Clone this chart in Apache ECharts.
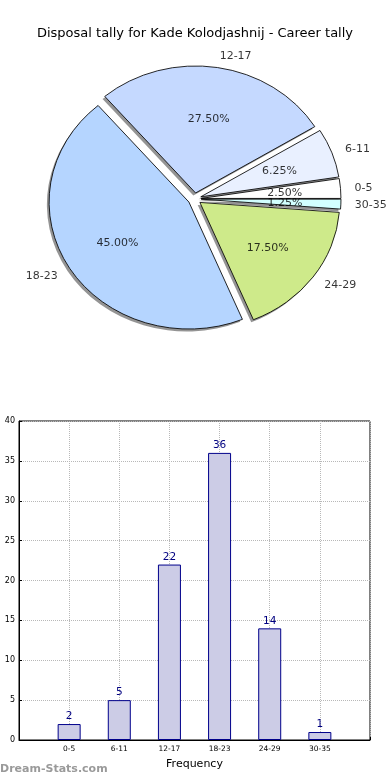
<!DOCTYPE html>
<html><head><meta charset="utf-8">
<script src="https://cdn.jsdelivr.net/npm/echarts@6/dist/echarts.min.js"></script>
<style>
html,body{margin:0;padding:0;background:#fff;}
#main{position:absolute;left:0;top:0;width:390px;height:780px;}
#pie{position:absolute;left:0;top:40px;width:354.2px;height:310px;transform:scaleX(1.101);transform-origin:0 0;}
</style></head><body>
<div id="main"></div><div id="pie"></div>
<script>
const chartTitle = 'Disposal tally for Kade Kolodjashnij - Career tally';
const categories = ['0-5', '6-11', '12-17', '18-23', '24-29', '30-35'];
const counts = [2, 5, 22, 36, 14, 1];
const sliceColors = ['#ffffff', '#e9f0ff', '#c5d9ff', '#b5d5ff', '#ceea8a', '#d2ffff'];
const xAxisName = 'Frequency';
const watermark = 'Dream-Stats.com';

const FONT = '"DejaVu Sans", sans-serif';
const R = 127;            // pie radius (pre-scale px)
const CX = 176.7, CY = 158.9;
const OFFSET = 6;         // explode distance
const PIE_FS = 10;

const total = counts.reduce((a, b) => a + b, 0);
let acc = 0;
const midAngles = counts.map(v => { const a = (acc + v / 2) / total * 360; acc += v; return a; });
const pctR = 0.6 + OFFSET / R;
const nameR = 1.1 + OFFSET / R;

const pieChart = echarts.init(document.getElementById('pie'), null, { renderer: 'svg' });
const pieCommon = {
  type: 'pie', radius: R, startAngle: 0, clockwise: false,
  selectedMode: 'multiple', selectedOffset: OFFSET, avoidLabelOverlap: false,
  label: { show: false }, labelLine: { show: false },
  emphasis: { disabled: true }, silent: true
};
const txt = { color: '#000', fontSize: PIE_FS, fontFamily: FONT, textBorderWidth: 0, textBorderColor: 'transparent', textShadowBlur: 0 };
pieChart.setOption({
  animation: false,
  polar: { center: [CX, CY], radius: 1.3 * R },
  angleAxis: { type: 'value', min: 0, max: 360, startAngle: 0, clockwise: false, show: false },
  radiusAxis: { type: 'value', min: 0, max: 1.3, show: false },
  series: [
    Object.assign({}, pieCommon, {
      center: [CX - 2, CY + 2.5], z: 1,
      itemStyle: { color: 'rgba(0,0,0,0.42)', borderWidth: 0 },
      data: categories.map((c, i) => ({ name: c, value: counts[i], selected: true,
        select: { itemStyle: { color: 'rgba(0,0,0,0.42)', borderWidth: 0 } } }))
    }),
    Object.assign({}, pieCommon, {
      center: [CX, CY], z: 2,
      itemStyle: { borderColor: '#000', borderWidth: 0.8 },
      data: categories.map((c, i) => ({ name: c, value: counts[i], selected: true,
        itemStyle: { color: sliceColors[i] },
        select: { itemStyle: { color: sliceColors[i], borderColor: '#000', borderWidth: 0.8 } } }))
    }),
    {
      type: 'scatter', coordinateSystem: 'polar', symbolSize: 0, silent: true, z: 5, clip: false,
      itemStyle: { color: 'transparent' },
      data: counts.map((v, i) => ({ value: [pctR, midAngles[i]] })),
      label: Object.assign({ show: true, position: 'inside',
        formatter: p => (counts[p.dataIndex] / total * 100).toFixed(2) + '%' }, txt)
    },
    {
      type: 'scatter', coordinateSystem: 'polar', symbolSize: 0, silent: true, z: 5, clip: false,
      itemStyle: { color: 'transparent' },
      data: categories.map((c, i) => ({
        name: c, value: [nameR, midAngles[i]],
        label: { position: Math.cos(midAngles[i] * Math.PI / 180) >= 0 ? 'right' : 'left' }
      })),
      label: Object.assign({ show: true, distance: 0, formatter: '{b}' }, txt)
    }
  ]
});

const main = echarts.init(document.getElementById('main'));
main.setOption({
  animation: false,
  title: { text: chartTitle, left: 'center', top: 22,
    textStyle: { fontSize: 13, fontWeight: 'normal', color: '#000', fontFamily: FONT } },
  graphic: [{ type: 'text', left: 0, top: 764,
    style: { text: watermark, fill: '#9a9a9a', font: 'bold 11px ' + FONT } }],
  grid: { left: 19, right: 20, top: 421, bottom: 40, show: true, borderColor: '#000', borderWidth: 1 },
  xAxis: {
    type: 'value', min: -1, max: 6, interval: 1,
    name: xAxisName, nameLocation: 'middle', nameGap: 19,
    nameTextStyle: { fontSize: 11, color: '#000', fontFamily: FONT },
    axisLine: { show: true, onZero: false, lineStyle: { color: '#000' } },
    axisTick: { show: true, inside: true, length: 3, lineStyle: { color: '#000' } },
    axisLabel: { fontSize: 7.5, color: '#000', margin: 5, fontFamily: FONT,
      formatter: v => categories[v] || '' },
    splitLine: { show: true, lineStyle: { color: '#b8b8b8', type: 'dotted', width: 1 } }
  },
  yAxis: {
    type: 'value', min: 0, max: 40, interval: 5,
    axisLine: { show: true, onZero: false, lineStyle: { color: '#000' } },
    axisTick: { show: true, inside: true, length: 3, lineStyle: { color: '#000' } },
    axisLabel: { fontSize: 8, color: '#000', margin: 4, fontFamily: FONT },
    splitLine: { show: true, lineStyle: { color: '#b8b8b8', type: 'dotted', width: 1 } }
  },
  series: [{
    type: 'bar', barWidth: 23,
    data: counts.map((v, i) => [i, v]),
    itemStyle: { color: '#ccccE6', borderColor: '#00008b', borderWidth: 1 },
    label: { show: true, position: 'top', distance: 2, color: '#000080', fontSize: 10.5, fontFamily: FONT },
    emphasis: { disabled: true }
  }]
});
</script>
</body></html>
